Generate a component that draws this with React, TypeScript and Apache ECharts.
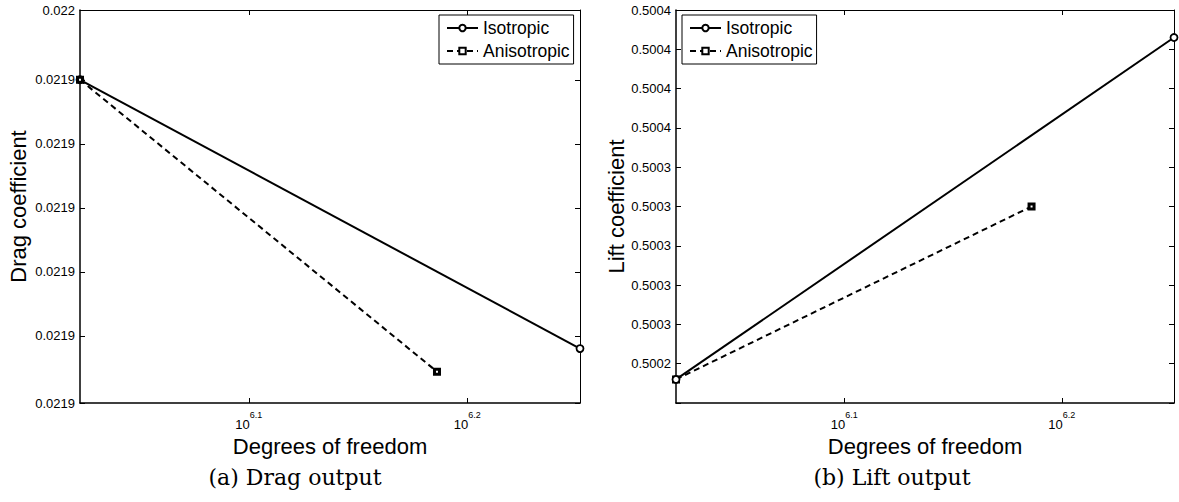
import React, { useEffect, useRef } from "react";
import * as echarts from "echarts";

// ---- data ----
const seriesNames = ["Isotropic", "Anisotropic"];
const dofIso = [1053700, 1784700];
const dofAniso = [1053700, 1535000];
const dragIso = [0.021905, 0.0219008];
const dragAniso = [0.021905, 0.02190044];
const liftIso = [0.500237, 0.500411];
const liftAniso = [0.500237, 0.500325];

const xTickExps = [6.1, 6.2];
const dragTicks = [0.02189995, 0.021901, 0.021902, 0.021903, 0.021904, 0.021905, 0.02190609];
const dragTickLabels = ["0.0219", "0.0219", "0.0219", "0.0219", "0.0219", "0.0219", "0.022"];
const liftTicks = [
  0.500225, 0.500245, 0.500265, 0.500285, 0.500305, 0.500325, 0.500345, 0.500365, 0.500385,
  0.500405, 0.500425,
];
const liftTickLabels = [
  "", "0.5002", "0.5003", "0.5003", "0.5003", "0.5003", "0.5003", "0.5004", "0.5004", "0.5004", "0.5004",
];
const captions = ["(a) Drag output", "(b) Lift output"];
const yTitles = ["Drag coefficient", "Lift coefficient"];
const xTitle = "Degrees of freedom";

const SANS = "'Liberation Sans', Arial, Helvetica, sans-serif";
const SERIF = "'DejaVu Serif', 'Liberation Serif', serif";

function labelFor(ticks: number[], labels: string[]) {
  return (v: number) => {
    let best = 0;
    let bd = Infinity;
    ticks.forEach((t, i) => {
      const d = Math.abs(t - v);
      if (d < bd) {
        bd = d;
        best = i;
      }
    });
    return labels[best];
  };
}

export default function App() {
  const ref = useRef<HTMLDivElement>(null);
  useEffect(() => {
    if (!ref.current) return;
    const chart = echarts.init(ref.current, undefined, { renderer: "svg" });
    const xMin = Math.log10(Math.min(...dofIso, ...dofAniso));
    const xMax = Math.log10(Math.max(...dofIso, ...dofAniso));
    const grids = [
      { left: 80, top: 10, width: 500, height: 393 },
      { left: 676, top: 10, width: 498, height: 393 },
    ];
    const yTicksArr = [dragTicks, liftTicks];
    const yLabelsArr = [dragTickLabels, liftTickLabels];
    const yNameGaps = [51, 48];

    const axisLine = (w: number) => ({ show: true, lineStyle: { color: "#000", width: w } });
    const tick = (vals: number[]) => ({
      show: true,
      inside: true,
      length: 5,
      customValues: vals,
      lineStyle: { color: "#000", width: 1 },
    });

    const xAxis: any[] = [];
    const yAxis: any[] = [];
    grids.forEach((_, g) => {
      xAxis.push({
        type: "value",
        gridIndex: g,
        position: "bottom",
        min: xMin,
        max: xMax,
        axisLine: axisLine(1.5),
        axisTick: tick(xTickExps),
        splitLine: { show: false },
        axisLabel: {
          customValues: xTickExps,
          margin: 7,
          formatter: (v: number) => `{b|10}{s|${v.toFixed(1)}}`,
          rich: {
            b: { fontSize: 13, fontFamily: SANS, color: "#000", verticalAlign: "bottom", lineHeight: 21 },
            s: { fontSize: 9, fontFamily: SANS, color: "#000", verticalAlign: "top", lineHeight: 21 },
          },
        },
        name: xTitle,
        nameLocation: "middle",
        nameGap: 25,
        nameTextStyle: { fontSize: 22, fontFamily: SANS, color: "#000" },
      });
      xAxis.push({
        type: "value",
        gridIndex: g,
        position: "top",
        min: xMin,
        max: xMax,
        axisLine: axisLine(1),
        axisTick: tick(xTickExps),
        axisLabel: { show: false },
        splitLine: { show: false },
      });
      const yt = yTicksArr[g];
      yAxis.push({
        type: "value",
        gridIndex: g,
        position: "left",
        min: yt[0],
        max: yt[yt.length - 1],
        axisLine: axisLine(1.5),
        axisTick: tick(yt),
        splitLine: { show: false },
        axisLabel: {
          customValues: yt,
          margin: 5,
          fontSize: 13,
          fontFamily: SANS,
          color: "#000",
          formatter: labelFor(yt, yLabelsArr[g]),
        },
        name: yTitles[g],
        nameLocation: "middle",
        nameGap: yNameGaps[g],
        nameTextStyle: { fontSize: 22, fontFamily: SANS, color: "#000" },
      });
      yAxis.push({
        type: "value",
        gridIndex: g,
        position: "right",
        min: yt[0],
        max: yt[yt.length - 1],
        axisLine: axisLine(1),
        axisTick: tick(yt),
        axisLabel: { show: false },
        splitLine: { show: false },
      });
    });

    const mk = (name: string, xs: number[], ys: number[], g: number, aniso: boolean, z: number) => ({
      type: "line",
      name,
      xAxisIndex: g * 2,
      yAxisIndex: g * 2,
      data: xs.map((x, i) => [Math.log10(x), ys[i]]),
      clip: false,
      symbol: aniso ? "rect" : "circle",
      symbolSize: aniso ? 5 : 7,
      showSymbol: true,
      lineStyle: { color: "#000", width: 2, type: aniso ? [6, 4] : "solid" },
      itemStyle: { color: "#fff", borderColor: "#000", borderWidth: aniso ? 3 : 1.8 },
      emphasis: { disabled: true },
      z,
    });

    const series = [
      mk(seriesNames[0], dofIso, dragIso, 0, false, 2),
      mk(seriesNames[1], dofAniso, dragAniso, 0, true, 3),
      mk(seriesNames[0], dofIso, liftIso, 1, false, 3),
      mk(seriesNames[1], dofAniso, liftAniso, 1, true, 2),
    ];

    const legendBase = (left: number) => ({
      orient: "vertical",
      left,
      top: 15,
      data: seriesNames,
      backgroundColor: "#fff",
      borderColor: "#000",
      borderWidth: 1,
      borderRadius: 0,
      padding: [4, 4, 4, 7],
      itemGap: 5,
      itemWidth: 31,
      itemHeight: 8,
      selectedMode: false,
      textStyle: { fontSize: 17.5, fontFamily: SANS, color: "#000" },
    });

    chart.setOption({
      animation: false,
      backgroundColor: "#fff",
      grid: grids,
      xAxis,
      yAxis,
      series,
      legend: [legendBase(439), legendBase(682)],
      graphic: captions.map((c, i) => ({
        type: "text",
        x: i === 0 ? 295 : 892,
        y: 477,
        style: {
          text: c,
          fontSize: 22,
          fontFamily: SERIF,
          fill: "#000",
          align: "center",
          verticalAlign: "middle",
        },
      })),
    });
    return () => chart.dispose();
  }, []);
  return <div ref={ref} style={{ position: "fixed", left: 0, top: 0, width: 1179, height: 502 }} />;
}
